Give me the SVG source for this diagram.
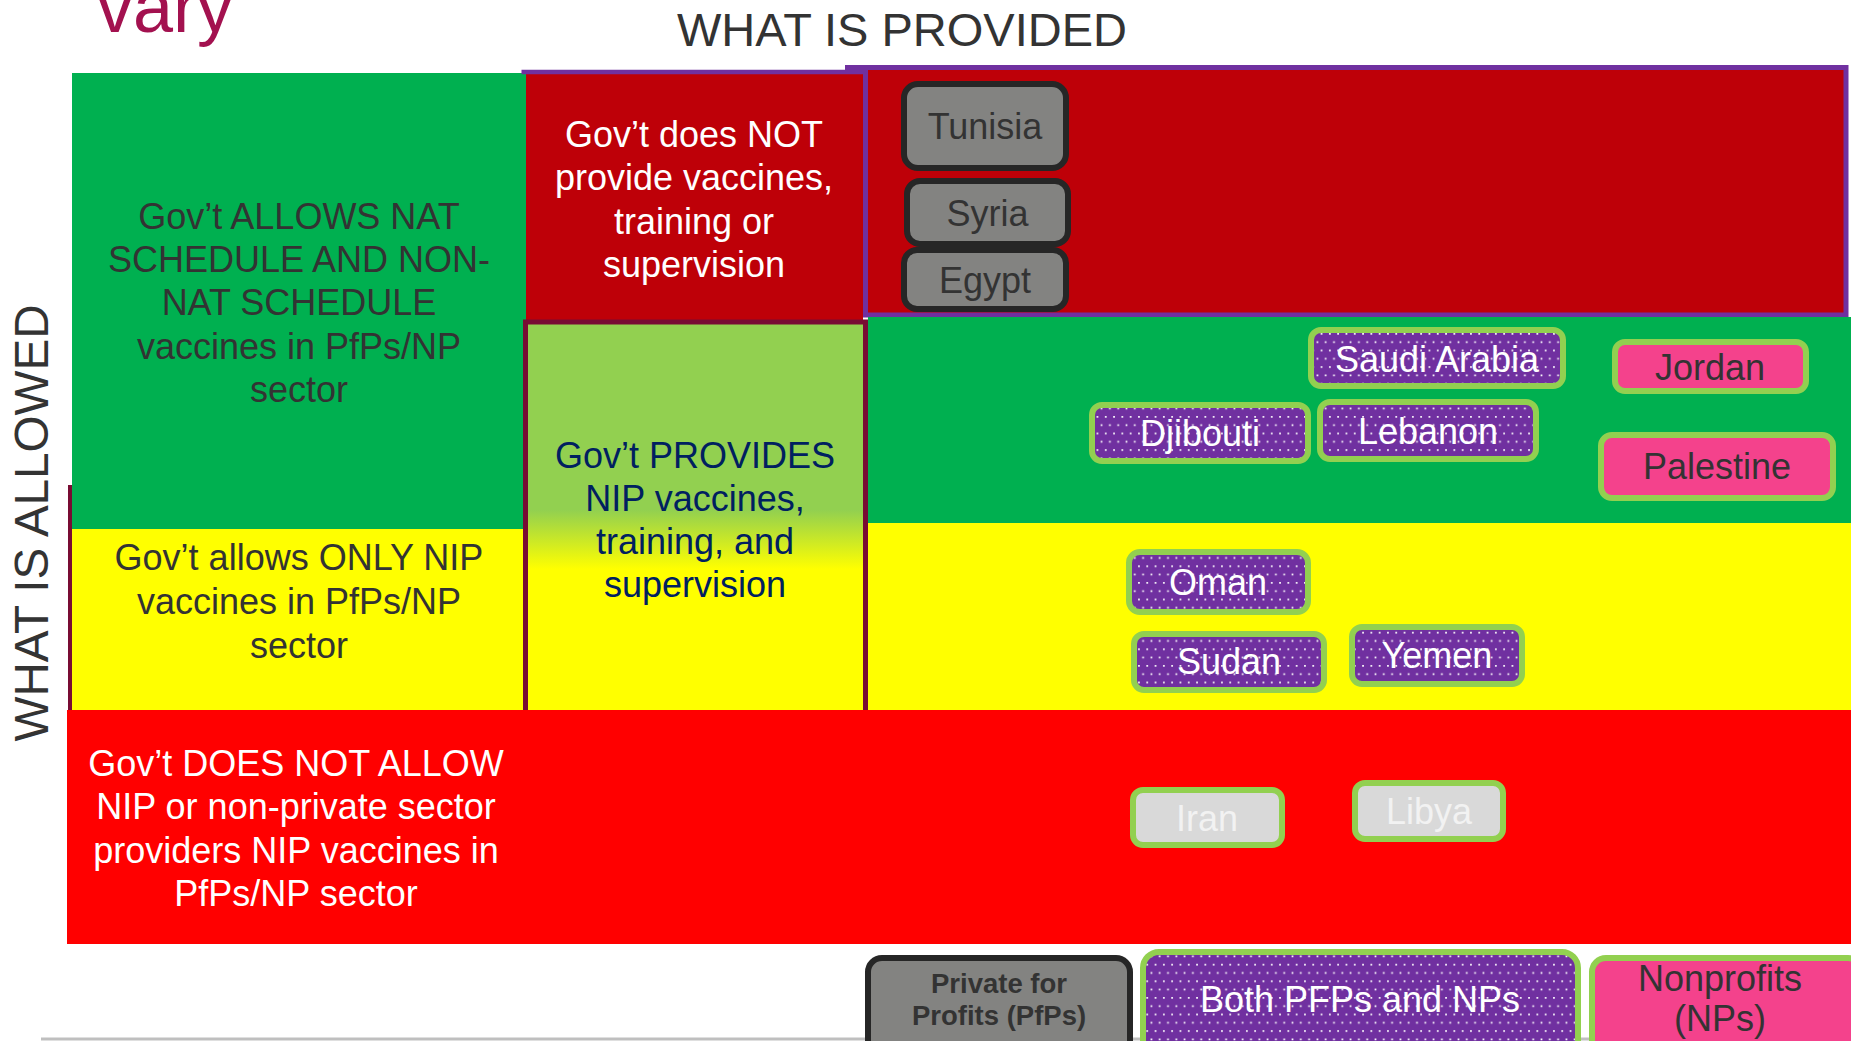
<svg xmlns="http://www.w3.org/2000/svg" width="1851" height="1041" viewBox="0 0 1851 1041">
<style>
text{font-family:"Liberation Sans",Arial,sans-serif;text-anchor:middle}
.t36{font-size:36px}
.dk{fill:#333333}
.wh{fill:#ffffff}
.navy{fill:#002060}
.gray{fill:#838381;stroke:#262626;stroke-width:6}
.purp{fill:url(#dots);stroke:#92D050;stroke-width:6}
.pink{fill:#F4428C;stroke:#92D050;stroke-width:6}
.lgray{fill:#D9D9D9;stroke:#92D050;stroke-width:6}
.lt{fill:#F2F2F2}
</style>
<defs>
<pattern id="dots" patternUnits="userSpaceOnUse" width="8.3" height="16.6">
<rect width="8.3" height="16.6" fill="#7030A0"/>
<rect x="1" y="1" width="1.7" height="1.7" fill="#ffffff"/>
<rect x="5.15" y="9.3" width="1.7" height="1.7" fill="#ffffff"/>
</pattern>
<linearGradient id="mid" x1="0" y1="0" x2="0" y2="1">
<stop offset="0" stop-color="#92D050"/>
<stop offset="0.48" stop-color="#92D050"/>
<stop offset="0.63" stop-color="#FFFF00"/>
<stop offset="1" stop-color="#FFFF00"/>
</linearGradient>
</defs>
<rect width="1851" height="1041" fill="#ffffff"/>

<g id="titles">
<text x="165" y="32" style="font-size:72px;fill:#A3114F">vary</text>
<text x="902" y="46" style="font-size:47px" class="dk">WHAT IS PROVIDED</text>
<text transform="translate(48,523) rotate(-90)" style="font-size:48px" class="dk" textLength="437" lengthAdjust="spacingAndGlyphs">WHAT IS ALLOWED</text>
</g>

<g id="background-cells">
<rect x="865.5" y="67.5" width="980.5" height="247.5" fill="#BE0008" stroke="#7030A0" stroke-width="5"/>
<line x1="845" y1="67.5" x2="866" y2="67.5" stroke="#7030A0" stroke-width="5"/>
<rect x="868" y="317" width="983" height="206" fill="#00B050"/>
<rect x="868" y="523" width="983" height="188" fill="#FFFF00"/>
</g>

<g id="cell-allows-all">
<rect x="72" y="73" width="454" height="457" fill="#00B050"/>
<text class="t36 dk" x="299" y="228.5">Gov’t ALLOWS NAT</text>
<text class="t36 dk" x="299" y="271.5">SCHEDULE AND NON-</text>
<text class="t36 dk" x="299" y="314.5">NAT SCHEDULE</text>
<text class="t36 dk" x="299" y="358.5">vaccines in PfPs/NP</text>
<text class="t36 dk" x="299" y="401.5">sector</text>
</g>

<g id="cell-allows-nip">
<rect x="72" y="529" width="452" height="182" fill="#FFFF00"/>
<rect x="68" y="485" width="4" height="226" fill="#780C33"/>
<text class="t36 dk" x="299" y="569.5">Gov’t allows ONLY NIP</text>
<text class="t36 dk" x="299" y="613.5">vaccines in PfPs/NP</text>
<text class="t36 dk" x="299" y="657.5">sector</text>
</g>

<g id="cell-not-provide">
<rect x="526" y="74" width="337" height="246" fill="#BE0008"/>
<line x1="521.5" y1="72" x2="866" y2="72" stroke="#7030A0" stroke-width="4.5"/>
<text class="t36 wh" x="694" y="146.5">Gov’t does NOT</text>
<text class="t36 wh" x="694" y="189.5">provide vaccines,</text>
<text class="t36 wh" x="694" y="233.5">training or</text>
<text class="t36 wh" x="694" y="276.5">supervision</text>
</g>

<g id="cell-provides">
<rect x="525.5" y="322" width="340" height="392" fill="url(#mid)" stroke="#780C33" stroke-width="5"/>
<text class="t36 navy" x="695" y="467.5">Gov’t PROVIDES</text>
<text class="t36 navy" x="695" y="510.5">NIP vaccines,</text>
<text class="t36 navy" x="695" y="553.5">training, and</text>
<text class="t36 navy" x="695" y="596.5">supervision</text>
</g>

<g id="cell-not-allow">
<rect x="67" y="710" width="1784" height="234" fill="#FF0000"/>
<text class="t36 wh" x="296" y="775.5">Gov’t DOES NOT ALLOW</text>
<text class="t36 wh" x="296" y="819">NIP or non-private sector</text>
<text class="t36 wh" x="296" y="862.5">providers NIP vaccines in</text>
<text class="t36 wh" x="296" y="905.5">PfPs/NP sector</text>
</g>

<g id="tunisia"><rect class="gray" x="904" y="84" width="162" height="84" rx="14"/><text class="t36 dk" x="985" y="139">Tunisia</text></g>
<g id="syria"><rect class="gray" x="907" y="181" width="161" height="63" rx="13"/><text class="t36 dk" x="987.5" y="226">Syria</text></g>
<g id="egypt"><rect class="gray" x="904" y="250" width="162" height="59" rx="13"/><text class="t36 dk" x="985" y="293">Egypt</text></g>

<g id="saudi-arabia"><rect class="purp" x="1311" y="330" width="252" height="56" rx="10"/><text class="t36 wh" x="1437" y="372">Saudi Arabia</text></g>
<g id="jordan"><rect class="pink" x="1615" y="342" width="191" height="49" rx="10"/><text class="t36 dk" x="1710" y="380">Jordan</text></g>
<g id="djibouti"><rect class="purp" x="1092" y="405" width="216" height="56" rx="10"/><text class="t36 wh" x="1200" y="446">Djibouti</text></g>
<g id="lebanon"><rect class="purp" x="1320" y="402" width="216" height="57" rx="10"/><text class="t36 wh" x="1428" y="444">Lebanon</text></g>
<g id="palestine"><rect class="pink" x="1601" y="435" width="232" height="63" rx="11"/><text class="t36 dk" x="1717" y="479">Palestine</text></g>
<g id="oman"><rect class="purp" x="1129" y="552" width="179" height="60" rx="11"/><text class="t36 wh" x="1218" y="595">Oman</text></g>
<g id="sudan"><rect class="purp" x="1134" y="634" width="190" height="56" rx="10"/><text class="t36 wh" x="1229" y="674">Sudan</text></g>
<g id="yemen"><rect class="purp" x="1352" y="627" width="170" height="57" rx="10"/><text class="t36 wh" x="1437" y="668">Yemen</text></g>
<g id="iran"><rect class="lgray" x="1133" y="790" width="149" height="55" rx="10"/><text class="t36 lt" x="1207" y="831">Iran</text></g>
<g id="libya"><rect class="lgray" x="1355" y="783" width="148" height="56" rx="10"/><text class="t36 lt" x="1429" y="824">Libya</text></g>

<line x1="41" y1="1039" x2="1851" y2="1039" stroke="#BFBFBF" stroke-width="3"/>

<g id="legend-pfps"><rect class="gray" x="868" y="958" width="262" height="100" rx="14"/>
<text x="999" y="993" style="font-size:27.5px;font-weight:bold" class="dk">Private for</text>
<text x="999" y="1025" style="font-size:27.5px;font-weight:bold" class="dk">Profits (PfPs)</text></g>
<g id="legend-both"><rect class="purp" x="1143" y="952" width="435" height="110" rx="16"/>
<text class="t36 wh" x="1360" y="1012">Both PFPs and NPs</text></g>
<g id="legend-nps"><rect class="pink" x="1592" y="958" width="270" height="100" rx="14"/>
<text class="t36 dk" x="1720" y="991">Nonprofits</text>
<text class="t36 dk" x="1720" y="1031">(NPs)</text></g>
</svg>
